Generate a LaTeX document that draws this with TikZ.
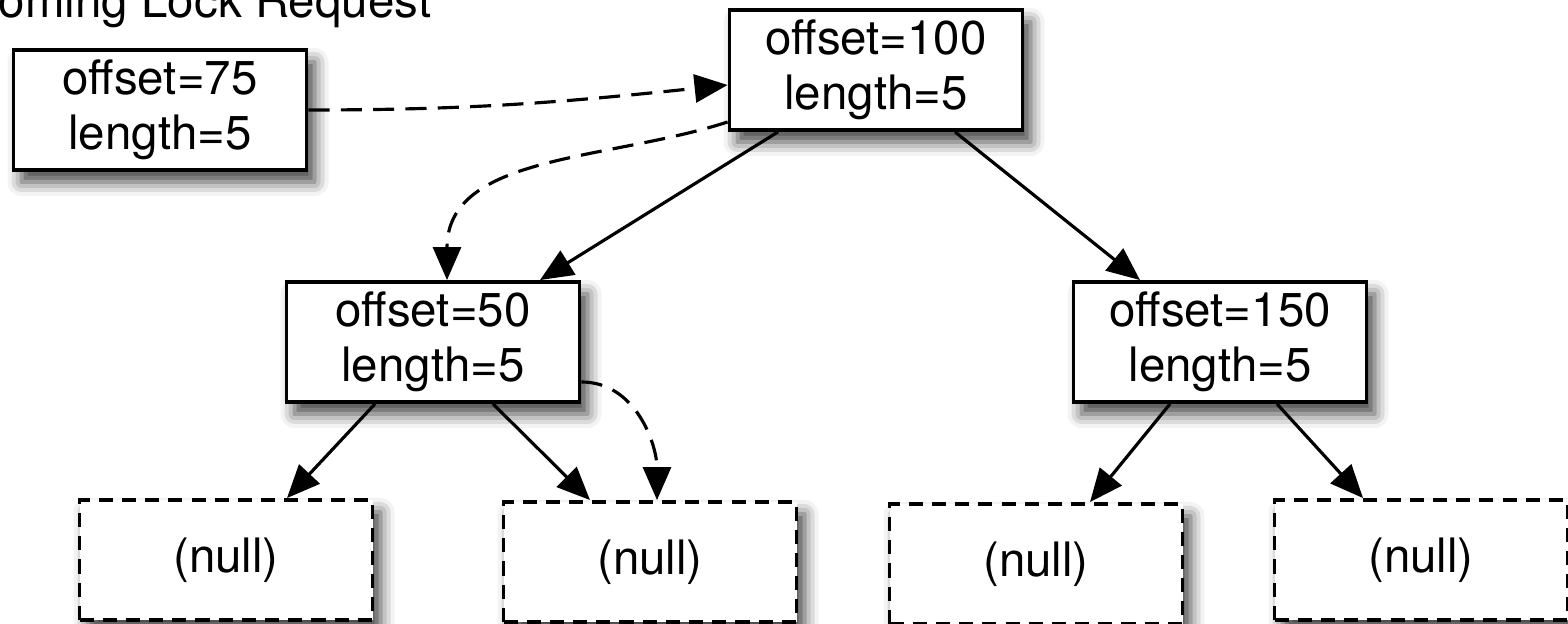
\documentclass[tikz,border=0pt]{standalone}
\usepackage{fontspec}
\setmainfont{TeX Gyre Heros}
\usetikzlibrary{arrows.meta}
\usetikzlibrary{shadows.blur}

\begin{document}
\begin{tikzpicture}[
    font=\fontsize{13.5pt}{15.6pt}\selectfont,
    lockbox/.style={draw, line width=1.1pt, fill=white, align=center,
      minimum width=2.93cm, minimum height=1.2cm, inner sep=0pt,
      blur shadow={shadow xshift=0.08cm, shadow yshift=-0.12cm,
        shadow blur radius=0.14cm, shadow opacity=75}},
    nullbox/.style={lockbox, dash pattern=on 4pt off 2.6pt},
    edge/.style={line width=0.9pt, -{Triangle[length=3.3mm, width=2.8mm]}},
    dashedge/.style={edge, dash pattern=on 6pt off 3.2pt}
  ]
  \useasboundingbox (0,0) rectangle (15.68,6.24);

  \node[anchor=base west, inner sep=0pt] (title) at (-0.65,6.06) {Incoming Lock Request};

  \node[lockbox] (o75) at (1.60,5.14) {offset=75\\length=5};
  \node[lockbox] (o100) at (8.76,5.54) {offset=100\\length=5};
  \node[lockbox] (o50) at (4.33,2.82) {offset=50\\length=5};
  \node[lockbox] (o150) at (12.20,2.82) {offset=150\\length=5};

  \node[nullbox] (n1) at (2.26,0.64) {(null)};
  \node[nullbox] (n2) at (6.50,0.62) {(null)};
  \node[nullbox] (n3) at (10.36,0.60) {(null)};
  \node[nullbox] (n4) at (14.21,0.64) {(null)};

  % the request walks down the tree
  \draw[dashedge] (o75.east) to[out=0, in=186] ([yshift=-0.15cm]o100.west);
  \draw[dashedge] ([yshift=-0.52cm]o100.west) to[out=198, in=90] ([xshift=0.14cm]o50.north);
  \draw[dashedge] ([yshift=-0.40cm]o50.east) to[out=0, in=90] ([xshift=0.07cm]n2.north);

  % tree links
  \draw[edge] ([xshift=-0.98cm]o100.south) -- ([xshift=1.07cm]o50.north);
  \draw[edge] ([xshift=0.79cm]o100.south) -- ([xshift=-0.80cm]o150.north);
  \draw[edge] ([xshift=-0.58cm]o50.south) -- ([xshift=0.61cm]n1.north);
  \draw[edge] ([xshift=0.60cm]o50.south) -- ([xshift=-0.60cm]n2.north);
  \draw[edge] ([xshift=-0.50cm]o150.south) -- ([xshift=0.54cm]n3.north);
  \draw[edge] ([xshift=0.57cm]o150.south) -- ([xshift=-0.58cm]n4.north);
\end{tikzpicture}
\end{document}
